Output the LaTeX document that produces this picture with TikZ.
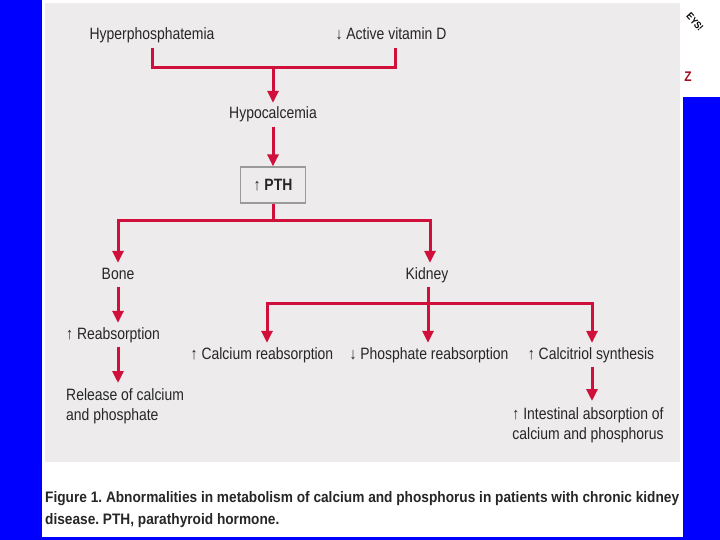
\documentclass[tikz,border=0pt]{standalone}
\usepackage{fontspec}
\setmainfont{Liberation Sans}[FakeStretch=0.85]
\newfontfamily\capfont{Liberation Sans}[FakeStretch=0.9]
\usetikzlibrary{arrows.meta}
\definecolor{bgblue}{HTML}{0000FF}
\definecolor{panel}{HTML}{EDEBEB}
\definecolor{redl}{HTML}{D0103A}
\definecolor{txt}{HTML}{262626}
\definecolor{boxline}{HTML}{9A9A9A}
\definecolor{logored}{HTML}{A01020}
\frenchspacing
\begin{document}
\begin{tikzpicture}[x=1pt,y=-1pt,
  lbl/.style={font=\fontsize{16.4}{20}\selectfont, text=txt, inner xsep=0pt, inner ysep=4pt, text height=12pt, text depth=3.5pt, anchor=base},
  mlbl/.style={font=\fontsize{16.4}{20}\selectfont, text=txt, inner xsep=0pt, inner ysep=0pt},
  conn/.style={draw=redl, line width=3pt},
  arr/.style={conn, -{Triangle[length=12pt,width=11pt]}},
  pthbox/.style={draw=boxline, line width=1.3pt, fill=panel, minimum width=65pt, minimum height=36pt, inner sep=0pt, font=\fontsize{16.4}{20}\selectfont, text=txt}
]
\useasboundingbox (0,0) rectangle (720,540);
\fill[bgblue] (0,0) rectangle (720,540);
\fill[white] (42,0) rectangle (683,537);
\fill[white] (683,0) rectangle (720,97);
\fill[panel] (45,3) rectangle (680,462);
% logo fragments
\node[font=\bfseries\fontsize{10}{10}\selectfont, rotate=-48, inner sep=0pt] (logo1) at (695,22) {EYS!};
\node[font=\bfseries\fontsize{14}{14}\selectfont, text=logored, inner sep=0pt] (logo2) at (688,77) {Z};

% nodes
\node[lbl] (hyp) at (152,40) {Hyperphosphatemia};
\node[lbl] (vitd) at (391,40) {↓ Active vitamin D};
\node[lbl] (hypo) at (273,119) {Hypocalcemia};
\node[pthbox] (pth) at (273,185) {↑ \textbf{PTH}};
\node[lbl] (bone) at (118,279) {Bone};
\node[lbl] (kid) at (427,279) {Kidney};
\node[lbl, anchor=base west] (reab) at (66,339) {↑ Reabsorption};
\node[mlbl, anchor=north west, align=left] (rel) at (66,388) {Release of calcium\\and phosphate};
\node[lbl] (calc) at (262,359) {↑ Calcium reabsorption};
\node[lbl] (phos) at (429,359) {↓ Phosphate reabsorption};
\node[lbl] (calci) at (591,359) {↑ Calcitriol synthesis};
\node[mlbl, anchor=north, align=center] (intest) at (588,407) {↑ Intestinal absorption of\\calcium and phosphorus};

% connectors
\coordinate (j1) at (273,68);
\coordinate (j2) at (273,221);
\coordinate (j3) at (428,303);
\draw[conn] (hyp.south) |- (j1) -| ([xshift=4pt]vitd.south);
\draw[arr] (j1) -- (hypo.north);
\draw[arr] (hypo.south) -- (pth.north);
\draw[conn] (pth.south) -- (j2);
\draw[arr] (j2) -| (bone.north);
\draw[arr] (j2) -| ([xshift=3pt]kid.north);
\draw[arr] (bone.south) -- (bone.south |- reab.north);
\draw[arr] (bone.south |- reab.south) -- ([yshift=5pt]bone.south |- rel.north);
\draw[conn] ([xshift=1pt]kid.south) -- (j3);
\draw[arr] (j3) -- (j3 |- phos.north);
\draw[arr] (j3) -| ([xshift=5pt]calc.north);
\draw[arr] (j3) -| ([xshift=1pt]calci.north);
\draw[arr] ([xshift=1pt]calci.south) -- ([xshift=1pt,yshift=6pt]calci.south |- intest.north);

% caption
\node[font=\capfont\bfseries\fontsize{15.2}{22}\selectfont, text=txt, inner sep=0pt, anchor=north west, align=left] (cap) at (45,491) {Figure 1. Abnormalities in metabolism of calcium and phosphorus in patients with chronic kidney\\disease. PTH, parathyroid hormone.};
\end{tikzpicture}
\end{document}
